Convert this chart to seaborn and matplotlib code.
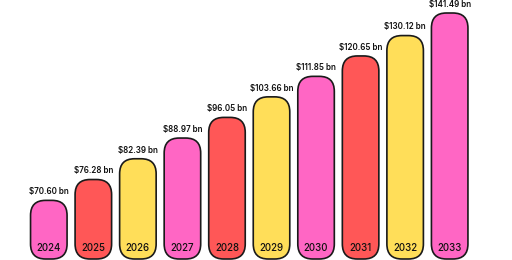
import matplotlib
matplotlib.use("Agg")
import matplotlib.pyplot as plt
from matplotlib.patches import FancyBboxPatch
from matplotlib.transforms import IdentityTransform
import seaborn as sns
import pandas as pd

years = ["2024", "2025", "2026", "2027", "2028", "2029", "2030", "2031", "2032", "2033"]
values = [70.60, 76.28, 82.39, 88.97, 96.05, 103.66, 111.85, 120.65, 130.12, 141.49]
labels = ["$70.60 bn", "$76.28 bn", "$82.39 bn", "$88.97 bn", "$96.05 bn",
          "$103.66 bn", "$111.85 bn", "$120.65 bn", "$130.12 bn", "$141.49 bn"]
colors = ["#FF66C4", "#FF5757", "#FFDE59", "#FF66C4", "#FF5757",
          "#FFDE59", "#FF66C4", "#FF5757", "#FFDE59", "#FF66C4"]

df = pd.DataFrame({"year": years, "value": values})

sns.set_theme(style="white")
plt.rcParams["font.family"] = ["Inter", "DejaVu Sans"]

fig = plt.figure(figsize=(5.12, 2.6), dpi=100)
ymin = 56.8
ax = fig.add_axes([0, 1 / 260, 1, 246 / 260])
sns.barplot(data=df, x="year", y="value", hue="year", palette=colors,
            legend=False, ax=ax, width=0.82, saturation=1)
ax.set_yscale("log")
ax.set_ylim(ymin, values[-1])
ax.set_xlim(-1.0957, 10.399)
ax.axis("off")
fig.canvas.draw()

patches = sorted(ax.patches, key=lambda p: p.get_x())
r = 15
for p, v, c, yr, lab in zip(patches, values, colors, years, labels):
    x0 = p.get_x()
    w = p.get_width()
    p.set_visible(False)
    px0, py0 = ax.transData.transform((x0, ymin))
    px1, py1 = ax.transData.transform((x0 + w, v))
    box = FancyBboxPatch((px0, py0), px1 - px0, py1 - py0,
                         boxstyle=f"round,pad=0,rounding_size={r}",
                         transform=IdentityTransform(), fc=c, ec="#1a1a1a",
                         lw=1.2, zorder=3)
    box.set_clip_on(False)
    ax.add_artist(box)
    cx = x0 + w / 2
    ax.annotate(yr, xy=(cx, ymin), xytext=(0, 7.9), textcoords="offset points",
                ha="center", va="center", fontsize=7, fontweight="medium",
                color="#111111", zorder=5, annotation_clip=False)
    ax.annotate(lab, xy=(cx, v), xytext=(0, 6.2), textcoords="offset points",
                ha="center", va="center", fontsize=5.8, fontweight="semibold",
                color="#111111", zorder=5, annotation_clip=False)

fig.savefig("out.png", dpi=100)
